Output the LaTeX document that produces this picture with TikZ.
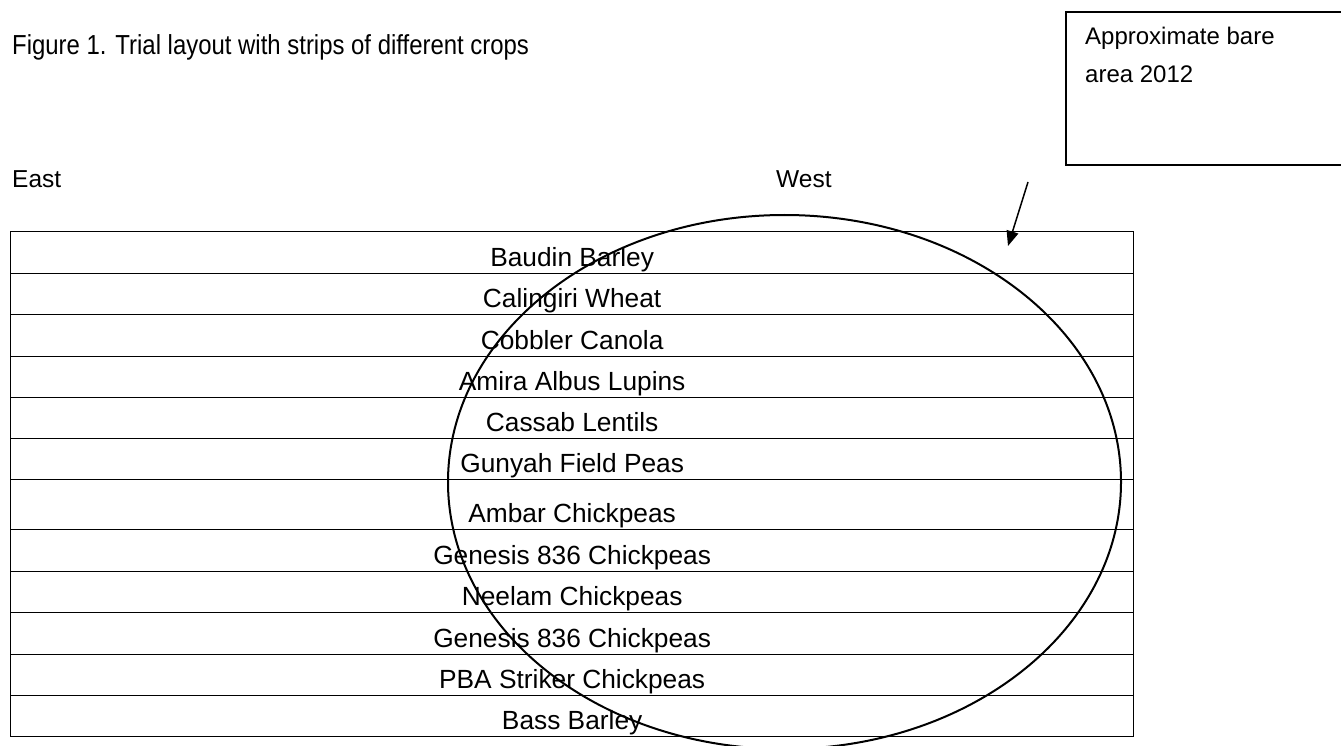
\documentclass[tikz,border=0pt]{standalone}
\usepackage{fontspec}
\setmainfont{Liberation Sans}
\newfontfamily\narrowfont[FakeStretch=0.87]{Liberation Sans}
\usetikzlibrary{arrows.meta}
\tikzset{
  stripbox/.style={draw, line width=1.3pt, anchor=north west, inner sep=0pt,
    minimum width=1123pt, text depth=7.5pt, font=\fontsize{26.3}{30}\selectfont},
  label/.style={anchor=base west, inner sep=0pt, font=\fontsize{24.5}{29}\selectfont},
}
\begin{document}
\begin{tikzpicture}[x=1pt,y=-1pt]
\useasboundingbox (0,0) rectangle (1341,746);
% title
\node (title) [anchor=base west, inner sep=0pt, font=\narrowfont\fontsize{27.5}{32}\selectfont] at (12,55) {Figure 1. Trial layout with strips of different crops};
\node (east) [label] at (12,188) {East};
\node (west) [label] at (776,188) {West};
% strips
\node (s1)  [stripbox, text height=34.5pt] at (10,231) {Baudin Barley};
\node (s2)  [stripbox, text height=33.5pt] at (10,273) {Calingiri Wheat};
\node (s3)  [stripbox, text height=34.5pt] at (10,314) {Cobbler Canola};
\node (s4)  [stripbox, text height=33.5pt] at (10,356) {Amira Albus Lupins};
\node (s5)  [stripbox, text height=33.5pt] at (10,397) {Cassab Lentils};
\node (s6)  [stripbox, text height=33.5pt] at (10,438) {Gunyah Field Peas};
\node (s7)  [stripbox, text height=42.5pt] at (10,479) {Ambar Chickpeas};
\node (s8)  [stripbox, text height=34.5pt] at (10,529) {Genesis 836 Chickpeas};
\node (s9)  [stripbox, text height=33.5pt] at (10,571) {Neelam Chickpeas};
\node (s10) [stripbox, text height=34.5pt] at (10,612) {Genesis 836 Chickpeas};
\node (s11) [stripbox, text height=33.5pt] at (10,654) {PBA Striker Chickpeas};
\node (s12) [stripbox, text height=33.5pt] at (10,695) {Bass Barley};
% bare area ellipse
\draw[line width=2pt] (784.5,482) ellipse [x radius=336.5, y radius=267];
% legend box
\node (boxtext) [anchor=base west, align=left, inner sep=0pt, font=\fontsize{24}{38}\selectfont] at (1085,83) {Approximate bare\\area 2012};
\draw[line width=1.5pt] (1341,12) -| (1066,165) -- (1341,165);
% arrow
\coordinate (afrom) at (1028,182);
\coordinate (ato) at (1008,246);
\draw[line width=1.5pt, -{Triangle[length=15pt,width=12pt]}] (afrom) -- (ato);
\end{tikzpicture}
\end{document}
